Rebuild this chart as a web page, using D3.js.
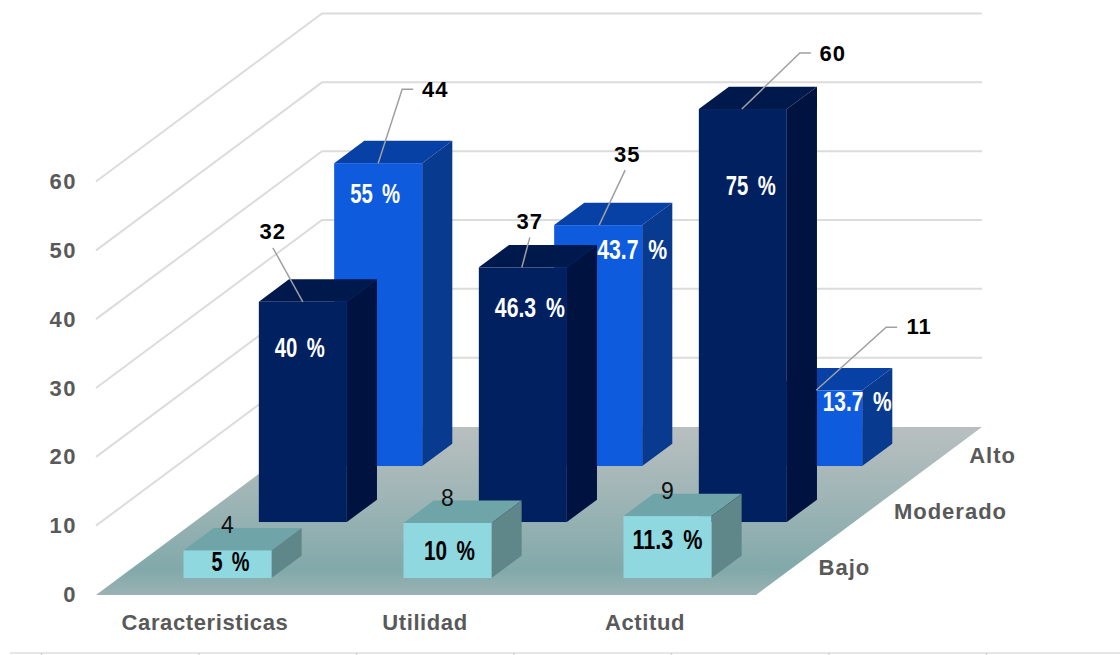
<!DOCTYPE html>
<html>
<head>
<meta charset="utf-8">
<script src="https://cdn.jsdelivr.net/npm/d3@7"></script>
<style>
  html, body { margin: 0; padding: 0; background: #fff; }
  svg { display: block; }
  text { font-family: "Liberation Sans", Arial, sans-serif; }
</style>
</head>
<body>
<script>
const categories = ["Caracteristicas", "Utilidad", "Actitud"];
const levels = ["Bajo", "Moderado", "Alto"];
const yTicks = [0, 10, 20, 30, 40, 50, 60];

const bajo = [4, 8, 9];
const moderado = [32, 37, 60];
const alto = [44, 35, 11];

const bajoPct = ["5 %", "10 %", "11.3 %"];
const moderadoPct = ["40 %", "46.3 %", "75 %"];
const altoPct = ["55 %", "43.7 %", "13.7 %"];

const width = 1120;
const height = 655;

// oblique projection of the 3d box: depth runs up and to the right
const depthX = 226;
const depthY = 168;
const floorLeft = 96;
const floorRight = 756;

const x = d3.scaleBand().domain(categories).range([94, 754]).paddingInner(0.6).paddingOuter(0.3);
const y = d3.scaleLinear().domain([0, 60]).range([595.5, 182.5]);
const z = d3.scaleBand().domain(levels).range([0.004, 1.004]).paddingInner(0.6).paddingOuter(0.3);

const px = (xv, zv) => xv + zv * depthX;
const py = (yv, zv) => yv - zv * depthY;
const pts = (a) => a.map((p) => p.join(",")).join(" ");

const svg = d3.select("body").append("svg").attr("width", width).attr("height", height);

const grad = svg.append("defs").append("linearGradient")
  .attr("id", "floorFill").attr("x1", 0).attr("y1", 0).attr("x2", 0).attr("y2", 1);
[[0, "#b9bfbf"], [0.45, "#9db4b5"], [0.85, "#82a9aa"], [1, "#9bb2b3"]].forEach((s) => {
  grad.append("stop").attr("offset", s[0]).attr("stop-color", s[1]);
});

// faint rule with small ticks at the foot of the image
svg.append("line")
  .attr("x1", 10).attr("x2", width)
  .attr("y1", 653).attr("y2", 653)
  .attr("stroke", "#e6e6e6").attr("stroke-width", 2);
svg.append("g").selectAll("line")
  .data(d3.range(41.5, width, 157.5))
  .enter()
  .append("line")
  .attr("x1", (d) => d).attr("x2", (d) => d)
  .attr("y1", 653).attr("y2", 655)
  .attr("stroke", "#d2d2d2").attr("stroke-width", 1.5);

// walls
svg.append("g").selectAll("polyline")
  .data(yTicks.filter((d) => d > 0))
  .enter()
  .append("polyline")
  .attr("fill", "none")
  .attr("stroke", "#dcdcdc")
  .attr("stroke-width", 2)
  .attr("points", (d) => pts([
    [px(floorLeft, 0), py(y(d) - 1, 0)],
    [px(floorLeft, 1), py(y(d) - 1, 1)],
    [px(floorRight, 1), py(y(d) - 1, 1)],
  ]));

// floor
const floorY0 = y(0) - 0.5;
svg.append("polygon")
  .attr("fill", "url(#floorFill)")
  .attr("points", pts([
    [px(floorLeft, 0), floorY0],
    [px(floorRight, 0), floorY0],
    [px(floorRight, 1), py(floorY0, 1)],
    [px(floorLeft, 1), py(floorY0, 1)],
  ]));

const seriesList = [
  { name: "Bajo", values: bajo, pct: bajoPct, front: "#8fd8e0", top: "#6fa4a8", side: "#5f8688", pctColor: "#000" },
  { name: "Moderado", values: moderado, pct: moderadoPct, front: "#00205f", top: "#00194c", side: "#001340", pctColor: "#fff" },
  { name: "Alto", values: alto, pct: altoPct, front: "#0e5bde", top: "#0841a6", side: "#083a8f", pctColor: "#fff" },
];

// back row first so nearer bars cover it
const bars = svg.append("g");
seriesList.slice().reverse().forEach((s) => {
  const z0 = z(s.name);
  const z1 = z0 + z.bandwidth();
  categories.forEach((c, i) => {
    const x0 = x(c);
    const x1 = x0 + x.bandwidth();
    const base = y(0);
    const top = y(s.values[i]);
    const g = bars.append("g");
    g.append("polygon").attr("fill", s.top).attr("points", pts([
      [px(x0, z0), py(top, z0)],
      [px(x1, z0), py(top, z0)],
      [px(x1, z1), py(top, z1)],
      [px(x0, z1), py(top, z1)],
    ]));
    g.append("polygon").attr("fill", s.side).attr("points", pts([
      [px(x1, z0), py(top, z0)],
      [px(x1, z1), py(top, z1)],
      [px(x1, z1), py(base, z1)],
      [px(x1, z0), py(base, z0)],
    ]));
    g.append("rect")
      .attr("x", px(x0, z0))
      .attr("y", py(top, z0))
      .attr("width", x.bandwidth())
      .attr("height", base - top)
      .attr("fill", s.front);
  });
});

// percent labels, offset from the top centre of the front face
const pctDown = { Bajo: [12, 28, 24], Moderado: [46, 41, 77], Alto: [31, 25, 12] };
const pctShift = { Bajo: [3, 2, 0], Moderado: [-3, 7, 8], Alto: [-3, 34, 39] };
const pctLength = { "5 %": 38, "10 %": 51, "11.3 %": 70, "40 %": 50, "46.3 %": 70, "75 %": 50, "55 %": 50, "43.7 %": 70, "13.7 %": 69 };
const labels = svg.append("g");
seriesList.forEach((s) => {
  const z0 = z(s.name);
  categories.forEach((c, i) => {
    labels.append("text")
      .attr("x", px(x(c) + x.bandwidth() / 2, z0) + pctShift[s.name][i])
      .attr("y", py(y(s.values[i]), z0) + pctDown[s.name][i] + 9)
      .attr("text-anchor", "middle")
      .attr("font-size", 27)
      .attr("font-weight", "bold")
      .attr("word-spacing", 5)
      .attr("fill", s.pctColor)
      .attr("textLength", pctLength[s.pct[i]])
      .attr("lengthAdjust", "spacingAndGlyphs")
      .text(s.pct[i]);
  });
});

// leader lines for the taller series, drawn relative to the bar top
const leaders = [
  { s: "Moderado", i: 0, dx: 0, bend: [[-30, -54]], label: [-30, -71] },
  { s: "Moderado", i: 1, dx: -1, bend: [[8, -30]], label: [8, -46] },
  { s: "Moderado", i: 2, dx: -1, bend: [[58, -56], [69, -56]], label: [91, -56] },
  { s: "Alto", i: 0, dx: 0, bend: [[24, -74], [35, -74]], label: [57, -74] },
  { s: "Alto", i: 1, dx: 1, bend: [[26, -55]], label: [28, -71] },
  { s: "Alto", i: 2, dx: -2, bend: [[70, -63], [81, -63]], label: [103, -64] },
];
const leaderLayer = svg.append("g");
leaders.forEach((l) => {
  const s = seriesList.find((d) => d.name === l.s);
  const z0 = z(s.name);
  const sx = px(x(categories[l.i]) + x.bandwidth() / 2, z0) + l.dx;
  const sy = py(y(s.values[l.i]), z0);
  leaderLayer.append("polyline")
    .attr("fill", "none")
    .attr("stroke", "#a0a0a0")
    .attr("stroke-width", 1.5)
    .attr("points", pts([[sx, sy]].concat(l.bend.map((b) => [sx + b[0], sy + b[1]]))));
  leaderLayer.append("text")
    .attr("x", sx + l.label[0])
    .attr("y", sy + l.label[1] + 8)
    .attr("text-anchor", "middle")
    .attr("font-size", 22)
    .attr("font-weight", "bold")
    .attr("letter-spacing", 1)
    .attr("fill", "#000")
    .text(s.values[l.i]);
});

// plain counts above the front row
categories.forEach((c, i) => {
  leaderLayer.append("text")
    .attr("x", px(x(c) + x.bandwidth() / 2, z("Bajo")))
    .attr("y", py(y(bajo[i]), z("Bajo")) - 17)
    .attr("text-anchor", "middle")
    .attr("font-size", 23)
    .attr("fill", "#111")
    .text(bajo[i]);
});

// axis labels
const tickColor = "#595959";
const axisY = d3.axisLeft(y).tickValues(yTicks).tickSize(0).tickPadding(0);
const axisG = svg.append("g").attr("transform", "translate(77,-1)").call(axisY);
axisG.select(".domain").remove();
axisG.selectAll("text")
  .attr("font-family", '"Liberation Sans", Arial, sans-serif')
  .attr("font-size", 22)
  .attr("font-weight", "bold")
  .attr("letter-spacing", 1.5)
  .attr("fill", tickColor);

const axisX = d3.axisBottom(x).tickSize(0).tickPadding(0);
const axisXG = svg.append("g").attr("transform", "translate(1,614)").call(axisX);
axisXG.select(".domain").remove();
axisXG.selectAll("text")
  .attr("font-family", '"Liberation Sans", Arial, sans-serif')
  .attr("font-size", 22)
  .attr("font-weight", "bold")
  .attr("letter-spacing", 0.6)
  .attr("fill", tickColor);

const levelG = svg.append("g");
levels.forEach((d) => {
  const zc = z(d) + z.bandwidth() / 2;
  levelG.append("text")
    .attr("x", px(floorRight, zc) + 24)
    .attr("y", py(y(0), zc) + 8)
    .attr("font-size", 22)
    .attr("font-weight", "bold")
    .attr("letter-spacing", 1)
    .attr("fill", tickColor)
    .text(d);
});
</script>
</body>
</html>
